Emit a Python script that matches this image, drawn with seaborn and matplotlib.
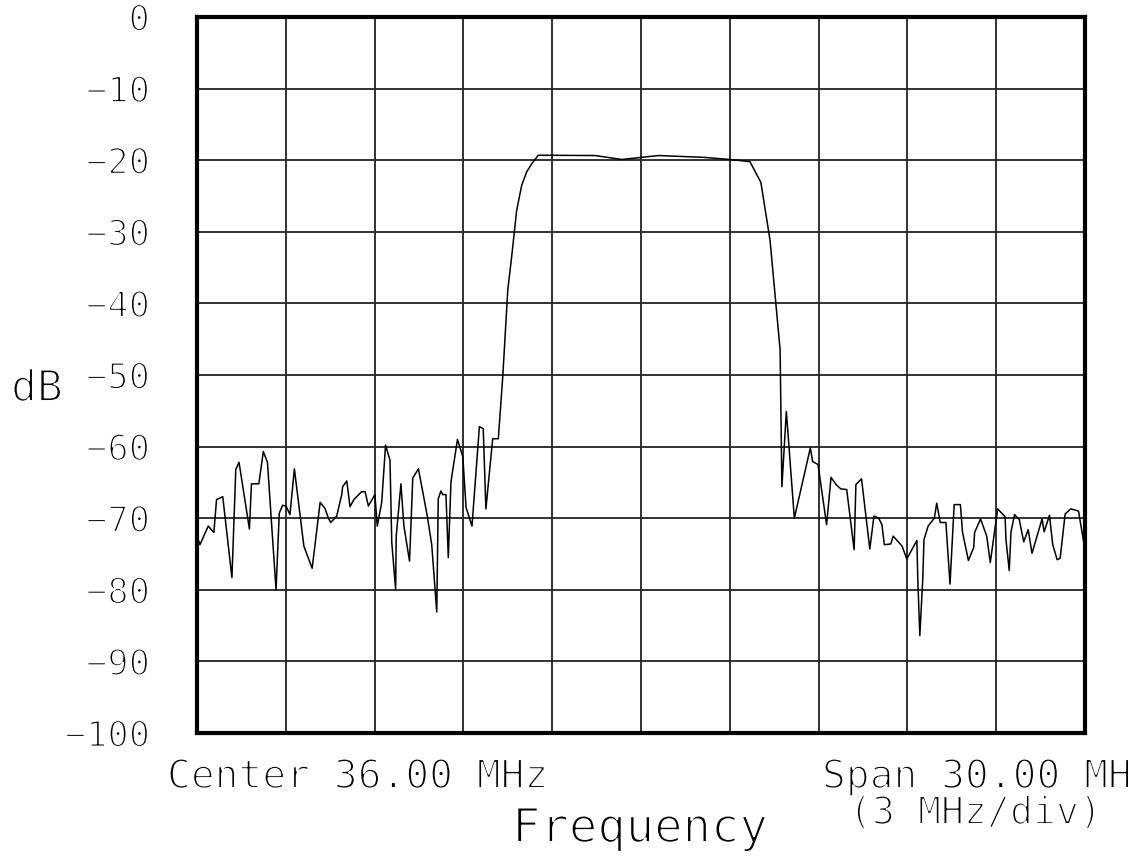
import matplotlib
matplotlib.use('Agg')
import matplotlib.pyplot as plt
import matplotlib.patheffects as pe
import seaborn as sns

# 측정 데이터 (MHz, dB) - 그림에서 읽은 값
freq_mhz = [
    21.00, 21.10, 21.38, 21.57, 21.66, 21.87, 22.18, 22.31, 22.42, 22.77,
    22.84, 23.09, 23.24, 23.38, 23.67, 23.78, 23.89, 24.01, 24.14, 24.29,
    24.61, 24.89, 25.16, 25.32, 25.44, 25.52, 25.72, 25.89, 25.92, 26.06,
    26.17, 26.30, 26.56, 26.68, 26.79, 27.01, 27.09, 27.24, 27.37, 27.52,
    27.58, 27.71, 27.73, 27.89, 27.99, 28.18, 28.29, 28.48, 28.78, 28.93,
    29.10, 29.15, 29.24, 29.30, 29.41, 29.49, 29.58, 29.80, 29.98, 30.09,
    30.29, 30.54, 30.67, 30.76, 30.99, 31.18, 31.33, 31.50, 31.63, 31.80,
    31.97, 32.14, 32.31, 32.53, 34.45, 35.35, 36.59, 38.11, 39.01, 39.68,
    40.05, 40.36, 40.70, 40.76, 40.91, 41.18, 41.72, 41.80, 41.98, 42.27,
    42.42, 42.59, 42.75, 42.95, 43.20, 43.26, 43.45, 43.73, 43.87, 44.03,
    44.14, 44.22, 44.44, 44.52, 44.82, 44.98, 45.32, 45.35, 45.42, 45.52,
    45.56, 45.70, 45.91, 45.99, 46.11, 46.30, 46.44, 46.58, 46.79, 46.86,
    47.06, 47.24, 47.27, 47.47, 47.68, 47.80, 48.05, 48.30, 48.33, 48.44,
    48.50, 48.62, 48.78, 48.93, 49.08, 49.21, 49.55, 49.62, 49.80, 49.91,
    50.06, 50.16, 50.33, 50.52, 50.78, 50.98,
]
level_db = [
    -72.5, -73.7, -71.1, -72.0, -67.4, -67.0, -78.3, -63.2, -62.2, -71.5,
    -65.2, -65.2, -60.7, -62.2, -80.0, -69.3, -68.2, -68.3, -69.5, -63.1,
    -73.9, -77.0, -67.8, -68.6, -70.0, -70.6, -69.7, -66.7, -65.6, -64.8,
    -68.4, -67.4, -66.3, -66.3, -68.3, -66.7, -71.1, -67.8, -59.8, -61.9,
    -73.4, -79.9, -72.5, -65.2, -71.1, -76.0, -64.4, -63.1, -69.7, -73.7,
    -83.1, -67.3, -66.2, -66.7, -66.7, -75.5, -64.9, -59.0, -61.4, -68.5,
    -71.1, -57.2, -57.5, -68.7, -58.9, -58.9, -50.2, -38.1, -33.5, -27.0,
    -23.5, -21.6, -20.5, -19.3, -19.35, -19.9, -19.35, -19.6, -19.9, -20.2,
    -23.1, -31.2, -46.5, -65.6, -55.1, -70.0, -60.2, -62.1, -62.5, -70.9,
    -64.3, -65.3, -65.9, -66.0, -74.4, -65.3, -64.5, -74.3, -69.7, -70.0,
    -70.9, -73.7, -73.6, -72.5, -73.9, -75.7, -73.1, -78.4, -86.4, -78.4,
    -73.0, -71.1, -70.0, -67.9, -70.6, -70.6, -79.2, -68.1, -68.1, -71.9,
    -75.9, -74.1, -72.0, -70.1, -72.5, -76.2, -68.7, -69.8, -73.0, -77.3,
    -71.9, -69.5, -70.2, -73.3, -71.6, -74.9, -70.1, -71.9, -69.6, -73.7,
    -75.8, -75.6, -69.4, -68.7, -69.0, -73.9,
]

center_mhz = 36.0
span_mhz = 30.0
y_ticks = list(range(-100, 1, 10))

sns.set_style('white')
plt.rcParams['font.family'] = ['DejaVu Sans Mono', 'DejaVu Sans']

# 플로터 글꼴처럼 가늘게 보이도록 흰 테두리로 깎기
thin = [pe.Stroke(linewidth=1.4, foreground='white')]

fig = plt.figure(figsize=(11.28, 8.59), dpi=100)
ax = fig.add_axes([197 / 1128, 1 - 733 / 859, 888 / 1128, 716 / 859])

sns.lineplot(x=freq_mhz, y=level_db, color='black', linewidth=1.1, ax=ax,
             sort=False, estimator=None)

x0 = center_mhz - span_mhz / 2
ax.set_xlim(x0, x0 + span_mhz)
ax.set_ylim(-100, 0)
ax.set_xticks([x0 + 3 * i for i in range(11)])
ax.set_xticklabels([])
ax.set_yticks(y_ticks)
ax.set_yticklabels([str(t).replace('-', '\u2212') for t in y_ticks], fontsize=25.5,
                   color='black', path_effects=thin)
ax.tick_params(axis='both', length=0)
ax.tick_params(axis='y', pad=34)
ax.grid(True, color='#222222', linewidth=1.3)
for s in ax.spines.values():
    s.set_visible(True)
    s.set_color('black')
    s.set_linewidth(3)

kw = dict(color='black', ha='left', va='baseline', path_effects=thin)
fig.text(11 / 1128, 1 - 401 / 859, 'dB', fontsize=31, **kw)
fig.text(167 / 1128, 1 - 788 / 859, 'Center 36.00 MHz', fontsize=28.5, **kw)
fig.text(822 / 1128, 1 - 788 / 859, 'Span 30.00 MHz', fontsize=28.5, **kw)
fig.text(849 / 1128, 1 - 824 / 859, '(3 MHz/div)', fontsize=27.5, **kw)
fig.text(512 / 1128, 1 - 842 / 859, 'Frequency', fontsize=34, **kw)

fig.savefig('out.png', dpi=100)
